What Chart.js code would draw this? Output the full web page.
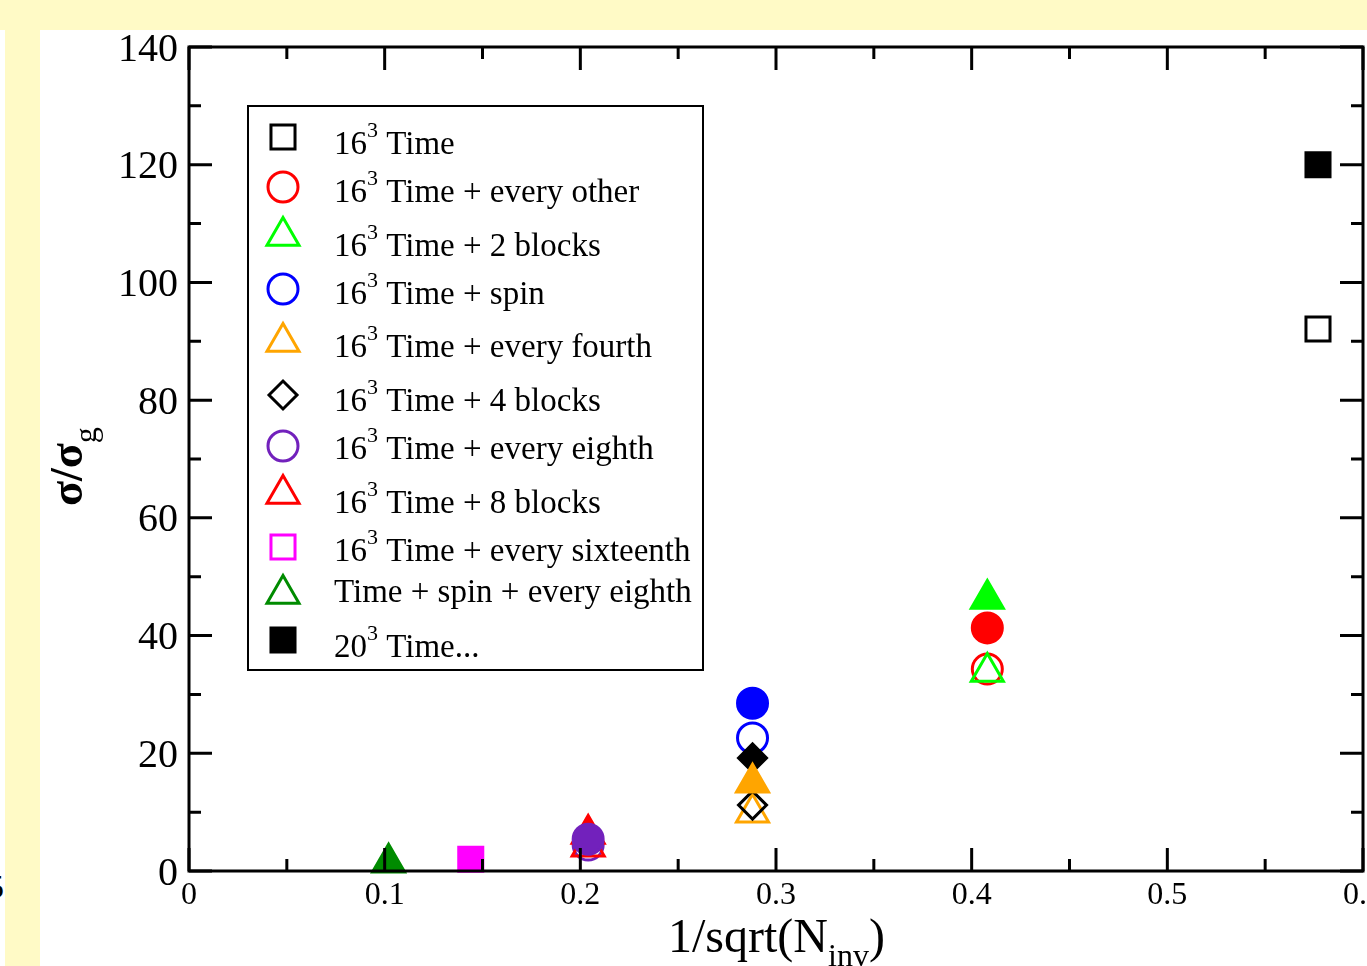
<!DOCTYPE html>
<html>
<head>
<meta charset="utf-8">
<title>sigma ratio vs 1/sqrt(N_inv)</title>
<script src="https://cdn.jsdelivr.net/npm/chart.js@4.4.1/dist/chart.umd.min.js"></script>
<style>
    html, body { margin: 0; padding: 0; background: #ffffff; }
    body { width: 1367px; height: 966px; position: relative; overflow: hidden; font-family: "Liberation Serif", serif; }
    #topband { position: absolute; left: 0; top: 0; width: 1367px; height: 30px; background: #fffac6; }
    #leftband { position: absolute; left: 5px; top: 30px; width: 35px; height: 936px; background: #fffac6; }
    #stray { position: absolute; left: -13px; top: 868px; font-size: 34px; color: #000; }
    #wrap { position: absolute; left: 40px; top: 30px; width: 1327px; height: 936px; }
</style>
</head>
<body>
<div id="topband"></div>
<div id="leftband"></div>
<div id="stray">5</div>
<div id="wrap"><canvas id="sigmaChart"></canvas></div>
<script>
// legend series (open symbols in the legend)
var seriesNames = [
    '16^3 Time',
    '16^3 Time + every other',
    '16^3 Time + 2 blocks',
    '16^3 Time + spin',
    '16^3 Time + every fourth',
    '16^3 Time + 4 blocks',
    '16^3 Time + every eighth',
    '16^3 Time + 8 blocks',
    '16^3 Time + every sixteenth',
    'Time + spin + every eighth',
    '20^3 Time...'
];
var seriesColors = ['#000000', '#ff0000', '#00ff00', '#0000ff', '#ffa500', '#000000', '#7221bc', '#ff0000', '#ff00ff', '#008b00', '#000000'];
var seriesShapes = ['rect', 'circle', 'triangle', 'circle', 'triangle', 'rectRot', 'circle', 'triangle', 'rect', 'triangle', 'rect'];
var seriesX = [0.577, 0.408, 0.408, 0.288, 0.288, 0.288, 0.204, 0.204, 0.144, 0.102, 0.577];
var seriesY = [92.1, 34.3, 33.8, 22.6, 9.9, 11.2, 4.4, 4.1, 2.0, 1.4, 120];
var filledInPlot = [false, false, false, false, false, false, false, false, true, true, true];
var filledInLegend = [false, false, false, false, false, false, false, false, false, false, true];

// extra filled points with no legend entry
var extraColors = ['#ff0000', '#00ff00', '#0000ff', '#000000', '#ffa500', '#ff0000', '#7221bc'];
var extraShapes = ['circle', 'triangle', 'circle', 'rectRot', 'triangle', 'triangle', 'circle'];
var extraX = [0.408, 0.408, 0.288, 0.288, 0.288, 0.204, 0.204];
var extraY = [41.3, 46.2, 28.5, 19.2, 15.0, 6.3, 5.4];

var shapeRadius = { rect: 17, circle: 15, triangle: 18.5, rectRot: 14 };
var serif = '"Liberation Serif", "Times New Roman", serif';

function makeSet(label, color, shape, x, y, filled, order) {
    return {
        label: label,
        data: [{ x: x, y: y }],
        pointStyle: shape,
        pointRadius: shapeRadius[shape],
        pointBorderWidth: 3,
        borderColor: color,
        pointBorderColor: color,
        pointBackgroundColor: filled ? color : 'rgba(0,0,0,0)',
        showLine: false,
        clip: false,
        order: order
    };
}

var datasets = [];
seriesNames.forEach(function(name, i) {
    datasets.push(makeSet(name, seriesColors[i], seriesShapes[i], seriesX[i], seriesY[i], filledInPlot[i], 100 - i));
});
extraShapes.forEach(function(shape, i) {
    datasets.push(makeSet('', extraColors[i], shape, extraX[i], extraY[i], true, 50 - i));
});

// draw text with one ^superscript or _subscript part
function drawRich(ctx, str, x, y, size, smallSize, shift, weight) {
    var mark = str.indexOf('^') >= 0 ? '^' : (str.indexOf('_') >= 0 ? '_' : null);
    var w = weight ? weight + ' ' : '';
    ctx.textBaseline = 'alphabetic';
    ctx.textAlign = 'left';
    if (!mark) {
        ctx.font = w + size + 'px ' + serif;
        ctx.fillText(str, x, y);
        return;
    }
    var parts = str.split(mark);
    var pre = parts[0];
    var rest = parts[1];
    var small = rest.match(/^[A-Za-z0-9]+/)[0];
    var after = rest.slice(small.length);
    ctx.font = w + size + 'px ' + serif;
    ctx.fillText(pre, x, y);
    x += ctx.measureText(pre).width;
    ctx.font = smallSize + 'px ' + serif;
    ctx.fillText(small, x, mark === '^' ? y - shift : y + shift);
    x += ctx.measureText(small).width;
    ctx.font = w + size + 'px ' + serif;
    ctx.fillText(after, x, y);
}

var framePlugin = {
    id: 'frame',
    afterDatasetsDraw: function(chart) {
        var ctx = chart.ctx;
        var a = chart.chartArea;
        var xs = chart.scales.x, ys = chart.scales.y;
        ctx.save();
        ctx.strokeStyle = '#000';
        ctx.lineWidth = 3;
        ctx.lineCap = 'butt';
        ctx.beginPath();
        var v, p, len;
        for (var k = 0; k <= 12; k++) {
            v = k * 0.05;
            p = xs.getPixelForValue(v);
            len = (k % 2 === 0) ? 23 : 12;
            ctx.moveTo(p, a.bottom); ctx.lineTo(p, a.bottom - len);
            ctx.moveTo(p, a.top); ctx.lineTo(p, a.top + len);
        }
        for (k = 0; k <= 14; k++) {
            v = k * 10;
            p = ys.getPixelForValue(v);
            len = (k % 2 === 0) ? 23 : 12;
            ctx.moveTo(a.left, p); ctx.lineTo(a.left + len, p);
            ctx.moveTo(a.right, p); ctx.lineTo(a.right - len, p);
        }
        ctx.stroke();
        ctx.lineJoin = 'miter';
        ctx.strokeRect(a.left, a.top, a.right - a.left, a.bottom - a.top);

        // axis titles
        ctx.fillStyle = '#000';
        drawRich(ctx, '1/sqrt(N_inv)', 628, 922, 48, 32, 14);
        ctx.translate(42, 476);
        ctx.rotate(-Math.PI / 2);
        drawRich(ctx, '\u03c3/\u03c3_g', 0, 0, 46, 32, 14, 'bold');
        ctx.restore();

        // legend
        ctx.save();
        var bx = 208, by = 76, bw = 455, bh = 564;
        ctx.fillStyle = '#fff';
        ctx.fillRect(bx, by, bw, bh);
        ctx.strokeStyle = '#000';
        ctx.lineWidth = 2;
        ctx.strokeRect(bx, by, bw, bh);
        var markerY = [107, 157, 206, 259, 312, 365, 416, 464, 517, 564, 610];
        var textY = [124, 172, 226, 274, 327, 381, 429, 483, 531, 572, 627];
        seriesNames.forEach(function(name, i) {
            ctx.lineWidth = 3;
            ctx.strokeStyle = seriesColors[i];
            ctx.fillStyle = filledInLegend[i] ? seriesColors[i] : 'rgba(0,0,0,0)';
            Chart.helpers.drawPoint(ctx, {
                pointStyle: seriesShapes[i],
                radius: shapeRadius[seriesShapes[i]],
                rotation: 0,
                borderWidth: 3
            }, 243, markerY[i]);
            ctx.fillStyle = '#000';
            drawRich(ctx, name, 294, textY[i], 33, 22, 17);
        });
        ctx.restore();
    }
};

var ctx = document.getElementById('sigmaChart').getContext('2d');
var sigmaChart = new Chart(ctx, {
    type: 'scatter',
    data: { datasets: datasets },
    options: {
        responsive: true,
        maintainAspectRatio: false,
        animation: false,
        layout: { autoPadding: false, padding: { top: 17, right: 4, left: 0, bottom: 0 } },
        plugins: {
            legend: { display: false },
            tooltip: { enabled: false }
        },
        scales: {
            x: {
                type: 'linear',
                min: 0,
                max: 0.6,
                grid: { display: false, drawTicks: false },
                border: { display: false },
                ticks: {
                    stepSize: 0.1,
                    padding: 5,
                    color: '#000',
                    maxRotation: 0,
                    font: { family: serif, size: 32 }
                },
                afterFit: function(s) { s.height = 95; s.paddingLeft = 0; s.paddingRight = 0; }
            },
            y: {
                type: 'linear',
                min: 0,
                max: 140,
                grid: { display: false, drawTicks: false },
                border: { display: false },
                ticks: {
                    stepSize: 20,
                    padding: 11,
                    labelOffset: 3,
                    color: '#000',
                    font: { family: serif, size: 40 }
                },
                afterFit: function(s) { s.width = 149; s.paddingTop = 0; s.paddingBottom = 0; }
            }
        }
    },
    plugins: [framePlugin]
});
</script>
</body>
</html>
